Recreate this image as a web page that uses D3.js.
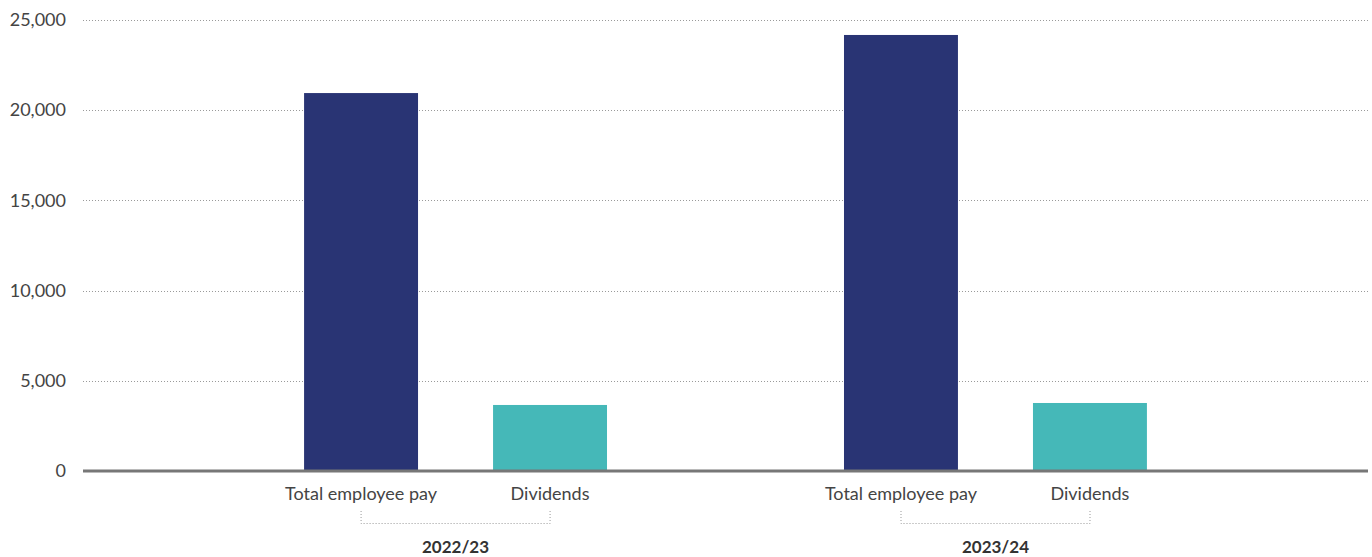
<!DOCTYPE html>
<html>
<head>
<meta charset="utf-8">
<script src="https://cdn.jsdelivr.net/npm/d3@7"></script>
<style>
  body { margin: 0; background: #fff; }
  text { font-family: Lato, "Open Sans", sans-serif; }
</style>
</head>
<body>
<div id="chart"></div>
<script>
let years = ["2022/23", "2023/24"];
let series = ["Total employee pay", "Dividends"];
let employeePay = [20950, 24170];
let dividends = [3660, 3770];
let yTicks = [0, 5000, 10000, 15000, 20000, 25000];
let colors = ["#293474", "#45b8b8"];

let width = 1372, height = 557;
let mLeft = 83, mRight = 1368, mTop = 20, mBottom = 471;

let svg = d3.select('#chart')
    .append('svg')
    .attr('width', width)
    .attr('height', height);

let y = d3.scaleLinear()
    .domain([0, 25000])
    .range([mBottom, mTop]);

let x0 = d3.scaleBand()
    .domain(years)
    .range([mLeft, mRight])
    .paddingInner(0)
    .paddingOuter(0.19);

let x1 = d3.scaleBand()
    .domain(series)
    .range([0, x0.bandwidth()])
    .paddingInner(0.397)
    .paddingOuter(0.627);

// grid + y labels
let yAxis = d3.axisLeft(y)
    .tickValues(yTicks)
    .tickSize(0)
    .tickPadding(17)
    .tickFormat(d3.format(','));
let gy = svg.append('g')
    .attr('transform', 'translate(' + mLeft + ',0)')
    .call(yAxis);
gy.select('.domain').remove();
gy.selectAll('text')
    .style('font-size', '18px')
    .style('font-family', 'Lato, sans-serif')
    .attr('fill', '#444');

svg.append('g')
    .selectAll('line')
    .data(yTicks.filter(d => d > 0))
    .enter().append('line')
    .attr('x1', mLeft)
    .attr('x2', mRight)
    .attr('y1', d => Math.round(y(d)) + 0.5)
    .attr('y2', d => Math.round(y(d)) + 0.5)
    .attr('stroke', '#9a9a9a')
    .attr('stroke-width', 1)
    .attr('stroke-dasharray', '1,2');

// bars
let rows = years.map((yr, i) => ({ year: yr, values: [employeePay[i], dividends[i]] }));

let groups = svg.selectAll('.grp')
    .data(rows)
    .enter().append('g')
    .attr('class', 'grp')
    .attr('transform', d => 'translate(' + x0(d.year) + ',0)');

groups.selectAll('rect')
    .data(d => d.values.map((v, j) => ({ key: series[j], value: v, j: j })))
    .enter().append('rect')
    .attr('x', d => x1(d.key))
    .attr('y', d => y(d.value))
    .attr('width', x1.bandwidth())
    .attr('height', d => y(0) - y(d.value))
    .attr('fill', d => colors[d.j]);

// category labels
groups.selectAll('.cat')
    .data(series)
    .enter().append('text')
    .attr('class', 'cat')
    .attr('x', d => x1(d) + x1.bandwidth() / 2)
    .attr('y', 500)
    .attr('text-anchor', 'middle')
    .style('font-size', '18px')
    .attr('fill', '#444')
    .text(d => d);

// brackets
groups.append('path')
    .attr('d', () => {
        let a = Math.round(x1(series[0]) + x1.bandwidth() / 2) + 0.5;
        let b = Math.round(x1(series[1]) + x1.bandwidth() / 2) + 0.5;
        return 'M' + a + ',511V523.5H' + b + 'V511';
    })
    .attr('fill', 'none')
    .attr('stroke', '#999')
    .attr('stroke-width', 1)
    .attr('stroke-dasharray', '1,2');

groups.append('text')
    .attr('x', x0.bandwidth() / 2)
    .attr('y', 553)
    .attr('text-anchor', 'middle')
    .style('font-size', '17px')
    .style('font-weight', 'bold')
    .attr('fill', '#333')
    .text(d => d.year);

// baseline
svg.append('line')
    .attr('x1', mLeft)
    .attr('x2', mRight)
    .attr('y1', y(0))
    .attr('y2', y(0))
    .attr('stroke', '#777')
    .attr('stroke-width', 3);
</script>
</body>
</html>
